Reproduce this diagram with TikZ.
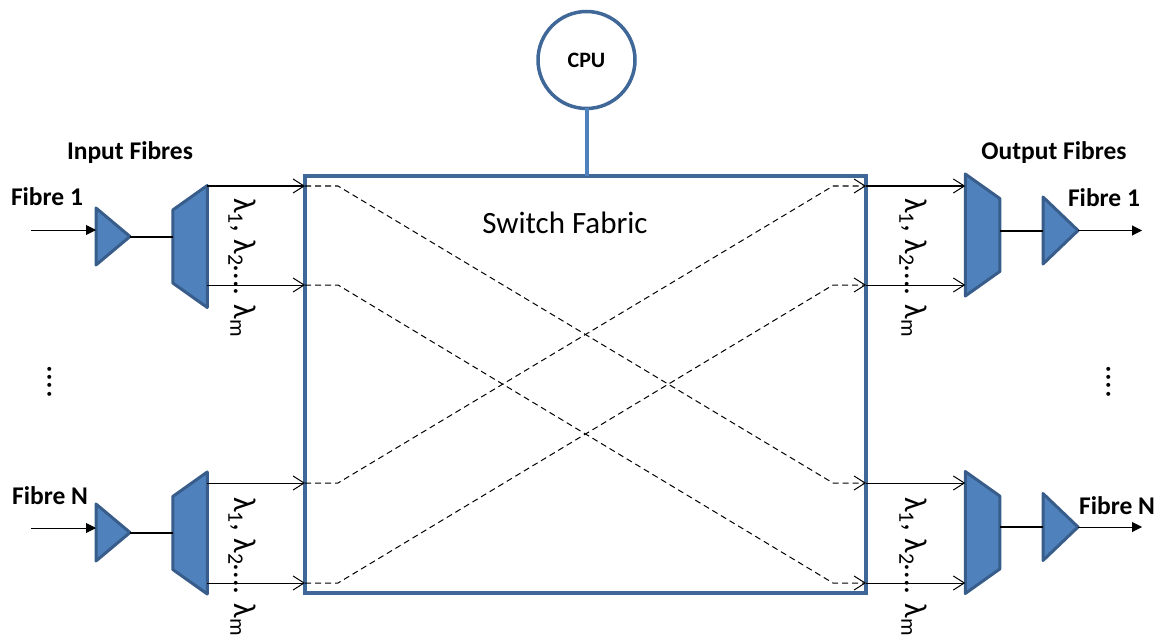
\documentclass[tikz,border=0pt]{standalone}
\usepackage{fontspec}
\setmainfont{Carlito}
\usetikzlibrary{arrows.meta,calc}

\definecolor{devfill}{HTML}{4F81BD}
\definecolor{devline}{HTML}{385D8A}
\definecolor{boxline}{HTML}{3F6797}

\tikzset{
  devbox/.style={draw=none, inner sep=0pt, outer sep=0pt},
  inamp/.style={devbox, minimum width=34pt, minimum height=57pt},
  outamp/.style={devbox, minimum width=35pt, minimum height=67pt},
  muxbox/.style={devbox, minimum width=34.5pt, minimum height=122pt},
  dev/.style={draw=devline, fill=devfill, line width=3pt, line join=round},
  fabric/.style={draw=boxline, line width=3.5pt, inner sep=0pt, outer sep=0pt,
                 minimum width=561pt, minimum height=417pt},
  cpunode/.style={circle, draw=boxline, line width=3.5pt, minimum size=97pt,
                  inner sep=0pt, outer sep=0pt, font=\bfseries\fontsize{22}{25}\selectfont},
  cpulink/.style={draw=devfill, line width=4pt},
  fibin/.style={line width=1pt, -{Triangle[length=10pt,width=10pt]}},
  chan/.style={line width=1pt, -{Straight Barb[length=11pt,width=14pt]}},
  route/.style={line width=1pt, dash pattern=on 6pt off 4pt, -{Straight Barb[length=11pt,width=14pt]}},
  link/.style={line width=2pt},
  lab/.style={font=\bfseries\fontsize{25.5}{28}\selectfont, inner sep=0pt},
  lam/.style={rotate=-90, anchor=base west, inner sep=0pt, font=\fontsize{31.5}{34}\selectfont},
  vdots/.style={rotate=90, anchor=base, inner sep=0pt, font=\fontsize{33}{36}\selectfont},
}

\begin{document}
\begin{tikzpicture}[x=1pt,y=-1pt]
\useasboundingbox (0,0) rectangle (1158,639);

% switch fabric and controller
\node[fabric] (fab) at (585.5,384.5) {};
\node[font=\fontsize{31}{34}\selectfont, inner sep=0pt] (fabtxt) at (565,223) {Switch Fabric};
\node[cpunode, fill=white] (cpu) at (586.5,60) {CPU};
\draw[cpulink] (cpu.south) -- (fab.north -| cpu.south);

% port heights on the fabric
\coordinate (p1) at (0,186);
\coordinate (p2) at (0,285);
\coordinate (p3) at (0,483);
\coordinate (p4) at (0,583);

% input side devices
\node[inamp]  (a1) at (113,236.5) {};
\node[inamp]  (aN) at (113,532.5) {};
\node[muxbox] (d1) at (190,246.5) {};
\node[muxbox] (dN) at (190,533) {};
\foreach \a in {a1,aN}
  \draw[dev] (\a.north west) -- (\a.east) -- (\a.south west) -- cycle;
\foreach \d in {d1,dN}
  \draw[dev] (\d.north east) -- (\d.south east) -- ([yshift=24.5pt]\d.south west)
             -- ([yshift=-24.5pt]\d.north west) -- cycle;

% output side devices
\node[muxbox] (m1) at (982.5,235) {};
\node[muxbox] (mN) at (982.5,532.5) {};
\node[outamp] (o1) at (1060.5,230.5) {};
\node[outamp] (oN) at (1060.5,527) {};
\foreach \m in {m1,mN}
  \draw[dev] (\m.north west) -- (\m.south west) -- ([yshift=24.5pt]\m.south east)
             -- ([yshift=-24.5pt]\m.north east) -- cycle;
\foreach \a in {o1,oN}
  \draw[dev] (\a.north west) -- (\a.east) -- (\a.south west) -- cycle;

% incoming fibres
\coordinate (src1) at (31,230);
\coordinate (srcN) at (31,528);
\draw[fibin] (src1) -- (src1 -| a1.west);
\draw[fibin] (srcN) -- (srcN -| aN.west);
\draw[link] (a1.east) -- (a1.east -| d1.west);
\draw[link] (aN.east) -- (aN.east -| dN.west);

% wavelength channels into the fabric
\foreach \p/\d in {p1/d1,p2/d1,p3/dN,p4/dN}
  \draw[chan] (\d.east |- \p) -- (fab.west |- \p);

% routes across the fabric
\draw[route] (fab.west |- p1) -- ++(33,0) -- ($(fab.east |- p3)+(-33,0)$) -- (fab.east |- p3);
\draw[route] (fab.west |- p2) -- ++(33,0) -- ($(fab.east |- p4)+(-33,0)$) -- (fab.east |- p4);
\draw[route] (fab.west |- p3) -- ++(33,0) -- ($(fab.east |- p1)+(-33,0)$) -- (fab.east |- p1);
\draw[route] (fab.west |- p4) -- ++(33,0) -- ($(fab.east |- p2)+(-33,0)$) -- (fab.east |- p2);

% wavelength channels out of the fabric
\foreach \p/\m in {p1/m1,p2/m1,p3/mN,p4/mN}
  \draw[chan] (fab.east |- \p) -- (\m.west |- \p);

% outgoing fibres
\coordinate (dst1) at (1142,230.5);
\coordinate (dstN) at (1142,527);
\draw[link] (m1.east |- o1.west) -- (o1.west);
\draw[link] (mN.east |- oN.west) -- (oN.west);
\draw[fibin] (o1.east) -- (dst1);
\draw[fibin] (oN.east) -- (dstN);

% labels
\node[lab] (inlab)  at (130,153)  {Input Fibres};
\node[lab] (outlab) at (1054,153) {Output Fibres};
\node[lab] (f1in)   at (47,197)   {Fibre 1};
\node[lab] (fNin)   at (50,496)   {Fibre N};
\node[lab] (f1out)  at (1104,198) {Fibre 1};
\node[lab] (fNout)  at (1117,506) {Fibre N};

\node[lam] (l1)  at (234,198) {λ\textsubscript{1}, λ\textsubscript{2}…. λ\textsubscript{m}};
\node[lam] (lN)  at (234,497) {λ\textsubscript{1}, λ\textsubscript{2}…. λ\textsubscript{m}};
\node[lam] (r1)  at (905,198) {λ\textsubscript{1}, λ\textsubscript{2}…. λ\textsubscript{m}};
\node[lam] (rN)  at (905,497) {λ\textsubscript{1}, λ\textsubscript{2}…. λ\textsubscript{m}};

\node[vdots] (dl) at (51,381.5)   {....};
\node[vdots] (dr) at (1110,381.5) {....};
\end{tikzpicture}
\end{document}
